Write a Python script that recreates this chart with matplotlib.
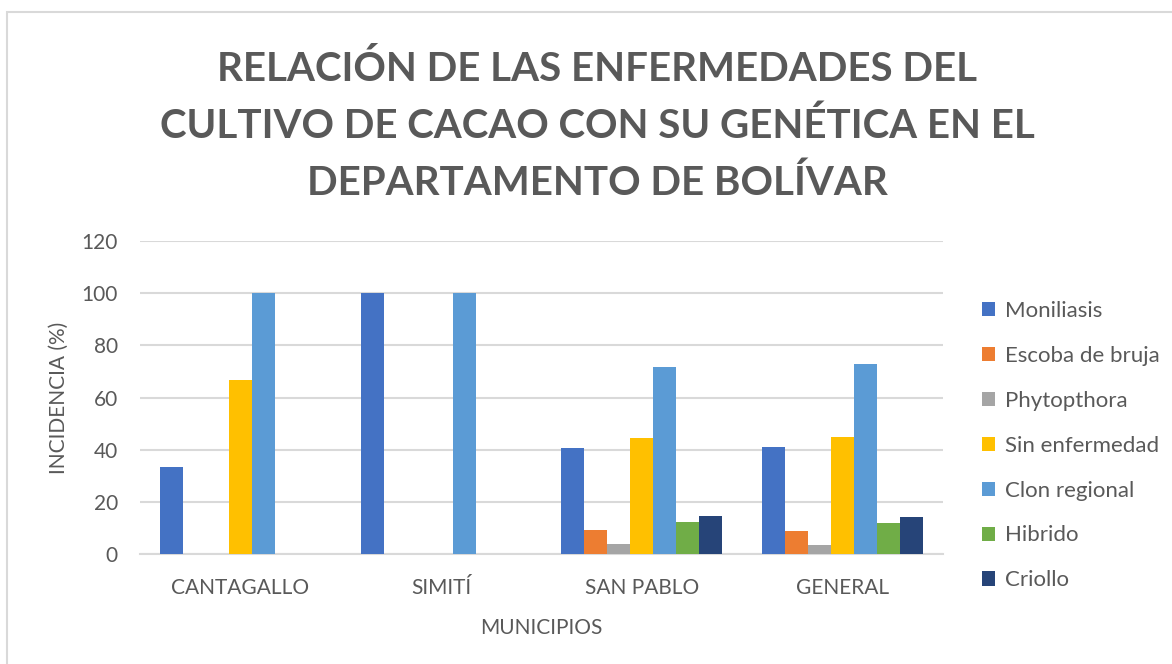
import matplotlib.pyplot as plt
import numpy as np
from matplotlib.patches import Patch, Rectangle

# Datos
municipios = ['CANTAGALLO', 'SIMITÍ', 'SAN PABLO', 'GENERAL']
series = ['Moniliasis', 'Escoba de bruja', 'Phytopthora', 'Sin enfermedad',
          'Clon regional', 'Hibrido', 'Criollo']
moniliasis = [33.3, 100, 40.6, 40.9]
escoba = [0, 0, 9.1, 8.7]
phytopthora = [0, 0, 3.7, 3.4]
sin_enfermedad = [66.7, 0, 44.6, 44.9]
clon_regional = [100, 100, 71.8, 72.9]
hibrido = [0, 0, 12.2, 11.7]
criollo = [0, 0, 14.7, 14.0]

valores = [moniliasis, escoba, phytopthora, sin_enfermedad,
           clon_regional, hibrido, criollo]
colores = ['#4472C4', '#ED7D31', '#A5A5A5', '#FFC000',
           '#5B9BD5', '#70AD47', '#264478']

plt.rcParams['font.family'] = ['Lato', 'DejaVu Sans']
gris = '#595959'
linea = '#D9D9D9'

fig = plt.figure(figsize=(11.72, 6.64), dpi=100)
# marco del grafico (solo visible arriba y a la izquierda)
fig.patches.append(Rectangle((7 / 1172, -1), 2, 2 - 12 / 664, transform=fig.transFigure,
                             fill=False, edgecolor=linea, linewidth=1.5))

ax = fig.add_axes([140 / 1172, 1 - 554 / 664, 803 / 1172, 313 / 664])

x = np.arange(len(municipios))
ancho = 0.1146
for i, (vals, col) in enumerate(zip(valores, colores)):
    ax.bar(x + (i - 3) * ancho, vals, width=ancho, color=col, linewidth=0,
           label=series[i], zorder=3)

ax.set_xlim(-0.5, 3.5)
ax.set_ylim(0, 120)
ax.set_yticks(range(0, 121, 20))
ax.set_xticks(x)
ax.set_xticklabels(municipios)
ax.grid(axis='y', color=linea, linewidth=1.5, zorder=0)
for s in ['top', 'right', 'left']:
    ax.spines[s].set_visible(False)
ax.spines['bottom'].set_color(linea)
ax.spines['bottom'].set_linewidth(1.5)
ax.tick_params(axis='both', length=0, colors=gris, labelsize=15)
ax.tick_params(axis='x', pad=17)
ax.tick_params(axis='y', pad=16)

ax.set_ylabel('INCIDENCIA (%)', color=gris, fontsize=15, labelpad=9)
ax.set_xlabel('MUNICIPIOS', color=gris, fontsize=15, labelpad=15)

fig.text(597 / 1172, 1 - 126 / 664,
         'RELACIÓN DE LAS ENFERMEDADES DEL\nCULTIVO DE CACAO CON SU GENÉTICA EN EL\nDEPARTAMENTO DE BOLÍVAR',
         ha='center', va='center', fontsize=29, fontweight='bold', color=gris,
         linespacing=1.65)

handles = [Patch(facecolor=c, edgecolor='none') for c in colores]
leg = fig.legend(handles, series, loc='upper left',
                 bbox_to_anchor=(962 / 1172, 1 - 281 / 664), frameon=False,
                 fontsize=16, labelcolor=gris, handlelength=0.6, handleheight=0.6,
                 handletextpad=0.45, labelspacing=1.12)

fig.savefig('out.png', dpi=100)
